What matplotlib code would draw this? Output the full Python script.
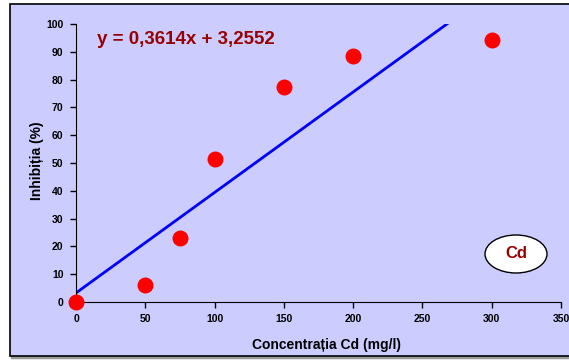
import matplotlib.pyplot as plt
import numpy as np
from matplotlib.patches import Rectangle, Ellipse

plt.rcParams['font.family'] = ['Liberation Sans', 'DejaVu Sans']

conc = [0, 50, 75, 100, 150, 200, 300]
inhib = [0, 6, 23, 51.5, 77.5, 88.5, 94.2]
slope = 0.3614
intercept = 3.2552

fig = plt.figure(figsize=(5.69, 3.6), dpi=100)
# outer frame of the chart area
fig.patches.append(Rectangle((12/569, 3/360), 560/569, 351/360, transform=fig.transFigure,
                             facecolor='#ccccff', edgecolor='#999999', lw=2.5, zorder=-2))
fig.patches.append(Rectangle((10/569, 4/360), 562/569, 352/360, transform=fig.transFigure,
                             facecolor='#ccccff', edgecolor='black', lw=1.2, zorder=-1))

ax = fig.add_axes([76/569, 1 - 302/360, 485/569, 278/360])
ax.patch.set_alpha(0)

xl = np.array([0, 350])
ax.plot(xl, slope * xl + intercept, color='#0000ff', lw=2, zorder=2)
ax.scatter(conc, inhib, s=110, color='#ff0000', zorder=3, clip_on=False)

ax.set_xlim(0, 350)
ax.set_ylim(0, 100)
ax.set_xticks(range(0, 351, 50))
ax.set_yticks(range(0, 101, 10))
ax.spines['top'].set_visible(False)
ax.spines['right'].set_visible(False)
ax.tick_params(direction='out', length=4, width=1, labelsize=7.5, pad=5)
for lbl in ax.get_xticklabels() + ax.get_yticklabels():
    lbl.set_fontweight('bold')
ax.set_xlabel('Concentrația Cd (mg/l)', fontsize=10, fontweight='bold')
ax.set_ylabel('Inhibiția (%)', fontsize=10, fontweight='bold')
ax.xaxis.set_label_coords(326/569, 1 - 345/360, transform=fig.transFigure)
ax.yaxis.set_label_coords(37/569, 1 - 161/360, transform=fig.transFigure)
ax.xaxis.label.set_va('center')
ax.yaxis.label.set_va('center')

fig.text(97/569, 1 - 40/360, 'y = 0,3614x + 3,2552', color='#990000', fontsize=13.5,
         fontweight='bold', va='center', ha='left')

ell = Ellipse((516/569, 1 - 254/360), 62/569, 38/360, transform=fig.transFigure,
              facecolor='white', edgecolor='black', lw=1)
fig.patches.append(ell)
fig.text(516/569, 1 - 254/360, 'Cd', color='#990000', fontsize=12, fontweight='bold',
         ha='center', va='center')

fig.savefig('out.png', dpi=100)
